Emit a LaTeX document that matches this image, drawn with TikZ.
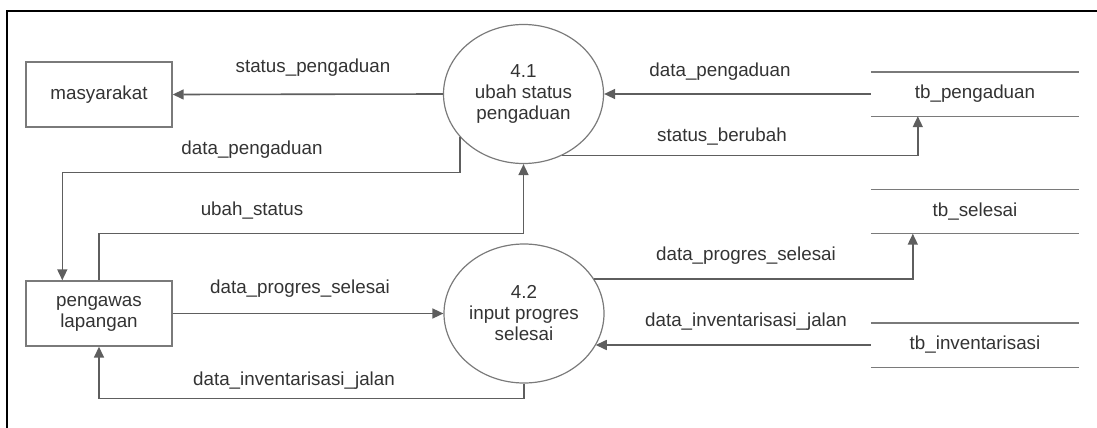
\documentclass[tikz,border=0pt]{standalone}
\usepackage{fontspec}
\setmainfont{Liberation Sans}
\usetikzlibrary{arrows.meta,shapes.geometric,calc}
\definecolor{linegray}{HTML}{5E5E5E}
\definecolor{boxgray}{HTML}{7A7A7A}
\definecolor{txtgray}{HTML}{333333}
\begin{document}
\begin{tikzpicture}[x=1pt,y=-1pt,
  every node/.style={font=\fontsize{18.8}{21}\selectfont, text=txtgray},
  entity/.style={draw=boxgray, line width=1.4pt, rectangle, minimum width=146pt, minimum height=65pt, inner sep=0pt, align=center},
  process/.style={draw=boxgray, line width=1.2pt, ellipse, minimum width=160pt, minimum height=139pt, inner sep=0pt, align=center},
  store/.style={rectangle, minimum width=208pt, minimum height=44pt, inner sep=0pt},
  flow/.style={draw=linegray, line width=1.6pt, -{Triangle[length=11pt,width=10pt]}},
  lbl/.style={inner sep=0pt, anchor=center}
]
\useasboundingbox (0,0) rectangle (1097,428);
% frame
\draw[line width=2.6pt, black] (1097,11) -- (7,11) -- (7,428);

% external entities
\node[entity] (ms) at (99,94.5) {masyarakat};
\node[entity] (pl) at (99,313.5) {pengawas\\lapangan};

% processes
\node[process] (p41) at (523.5,94) {4.1\\ubah status\\pengaduan};
\node[process] (p42) at (524,313.5) {4.2\\input progres\\selesai};

% data stores
\node[store] (tbp) at (975,94) {tb\_pengaduan};
\node[store] (tbs) at (975,211.5) {tb\_selesai};
\node[store] (tbi) at (975,345) {tb\_inventarisasi};
\foreach \s in {tbp,tbs,tbi}{
  \draw[draw=boxgray, line width=1.4pt] (\s.north west) -- (\s.north east);
  \draw[draw=boxgray, line width=1.4pt] (\s.south west) -- (\s.south east);
}

% data flows
\draw[flow] (p41.west) -- (ms.east);
\draw[flow] (tbp.west) -- (p41.east);
\draw[flow] (p41.-58.6) -| ([xshift=47pt]tbp.south west);
\draw[flow] (p41.214.3) -- ++(0,35.4) -| ([xshift=37pt]pl.north west);
\draw[flow] (pl.north) -- ++(0,-47) -| (p41.south);
\draw[flow] (pl.east) -- (p42.west);
\draw[flow] (p42.south) -- ++(0,15) -| (pl.south);
\draw[flow] (p42.26.4) -| ([xshift=42pt]tbs.south west);
\draw[flow] (tbi.west) -- (tbi.west -| p42.-24.7);

% flow labels
\node[lbl] (l1) at (313,68) {status\_pengaduan};
\node[lbl] (l2) at (720,72) {data\_pengaduan};
\node[lbl] (l3) at (722,137) {status\_berubah};
\node[lbl] (l4) at (252,150) {data\_pengaduan};
\node[lbl] (l5) at (252,211) {ubah\_status};
\node[lbl] (l6) at (300,289) {data\_progres\_selesai};
\node[lbl] (l7) at (746,256) {data\_progres\_selesai};
\node[lbl] (l8) at (746,322) {data\_inventarisasi\_jalan};
\node[lbl] (l9) at (294,381) {data\_inventarisasi\_jalan};
\end{tikzpicture}
\end{document}
